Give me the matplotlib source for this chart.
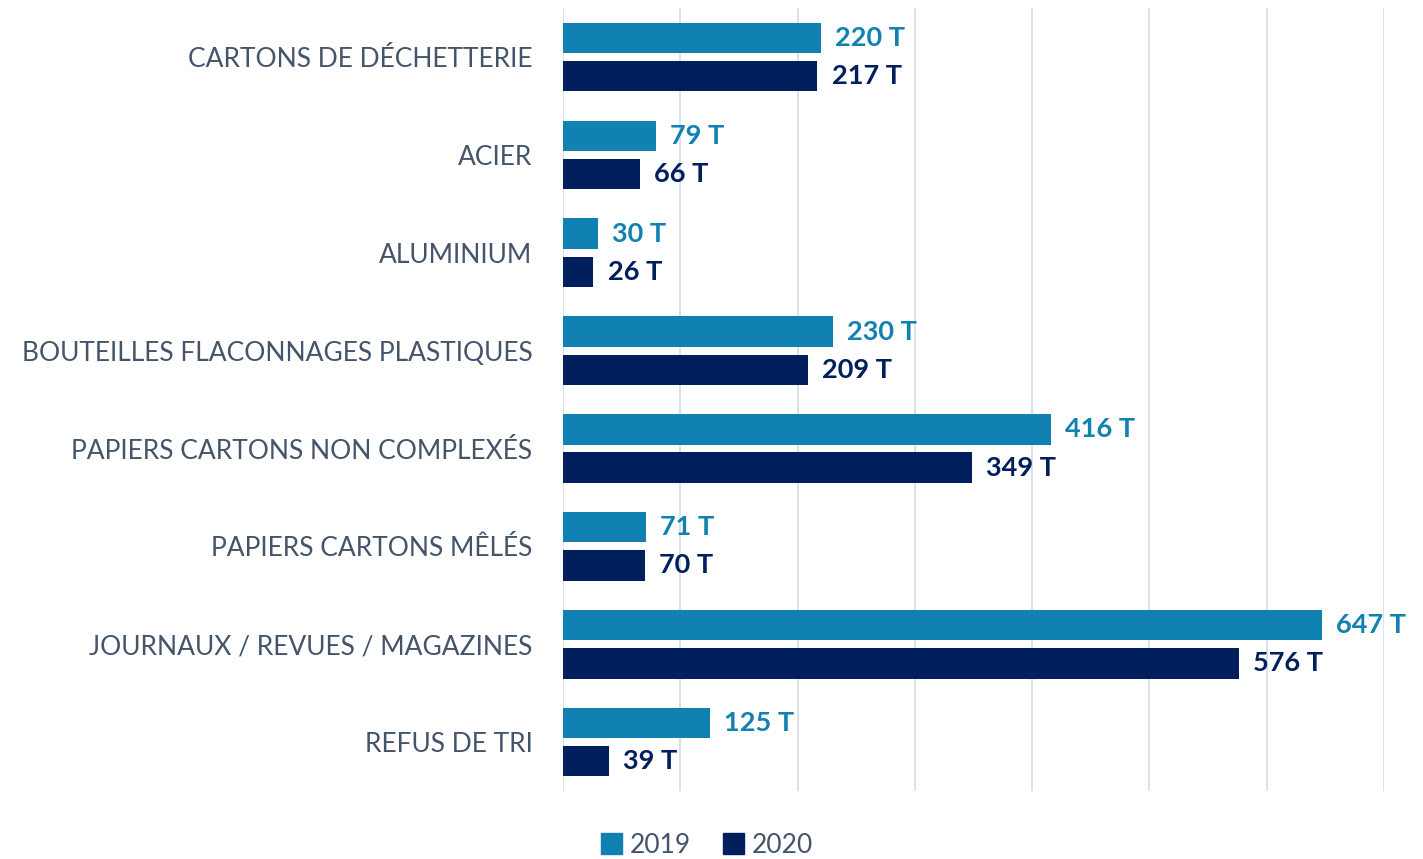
import matplotlib
matplotlib.use("Agg")
import matplotlib.pyplot as plt
from matplotlib.ticker import MultipleLocator
from matplotlib.patches import Patch
import numpy as np

plt.rcParams['font.family'] = ['Lato', 'DejaVu Sans']

categories = ["CARTONS DE DÉCHETTERIE", "ACIER", "ALUMINIUM",
              "BOUTEILLES FLACONNAGES PLASTIQUES", "PAPIERS CARTONS NON COMPLEXÉS",
              "PAPIERS CARTONS MÊLÉS", "JOURNAUX / REVUES / MAGAZINES", "REFUS DE TRI"]
v2019 = [220, 79, 30, 230, 416, 71, 647, 125]
v2020 = [217, 66, 26, 209, 349, 70, 576, 39]

c2019 = '#1181B2'
c2020 = '#001F5C'
txt = '#44546A'

fig = plt.figure(figsize=(14.23, 8.59), dpi=100)
ax = fig.add_axes([0.3956, 0.079, 0.577, 0.9117])

y = np.arange(len(categories))
h = 0.31
off = 0.195
ax.barh(y - off, v2019, height=h, color=c2019, zorder=3)
ax.barh(y + off, v2020, height=h, color=c2020, zorder=3)

for yi, a, b in zip(y, v2019, v2020):
    ax.text(a + 12, yi - off, f"{a} T", va='center', ha='left', fontsize=19.5,
            fontweight='bold', color=c2019)
    ax.text(b + 12, yi + off, f"{b} T", va='center', ha='left', fontsize=19.5,
            fontweight='bold', color=c2020)

ax.set_ylim(len(categories) - 0.5, -0.5)
ax.set_xlim(0, 700)
ax.xaxis.set_major_locator(MultipleLocator(100))
ax.grid(axis='x', color='#D9DDE5', linewidth=1.3, zorder=0)
ax.set_xticklabels([])
ax.tick_params(axis='x', length=0)
ax.tick_params(axis='y', length=0, pad=22, labelsize=19, labelcolor=txt)
ax.set_yticks(y)
ax.set_yticklabels(categories)
for s in ax.spines.values():
    s.set_visible(False)

handles = [Patch(color=c2019, label='2019'), Patch(color=c2020, label='2020')]
fig.legend(handles=handles, loc='center', bbox_to_anchor=(0.497, 0.016), ncol=2,
           frameon=False, fontsize=19, labelcolor=txt, handlelength=0.8,
           handleheight=0.8, handletextpad=0.3, columnspacing=1.2)

fig.savefig("out.png", dpi=100)
